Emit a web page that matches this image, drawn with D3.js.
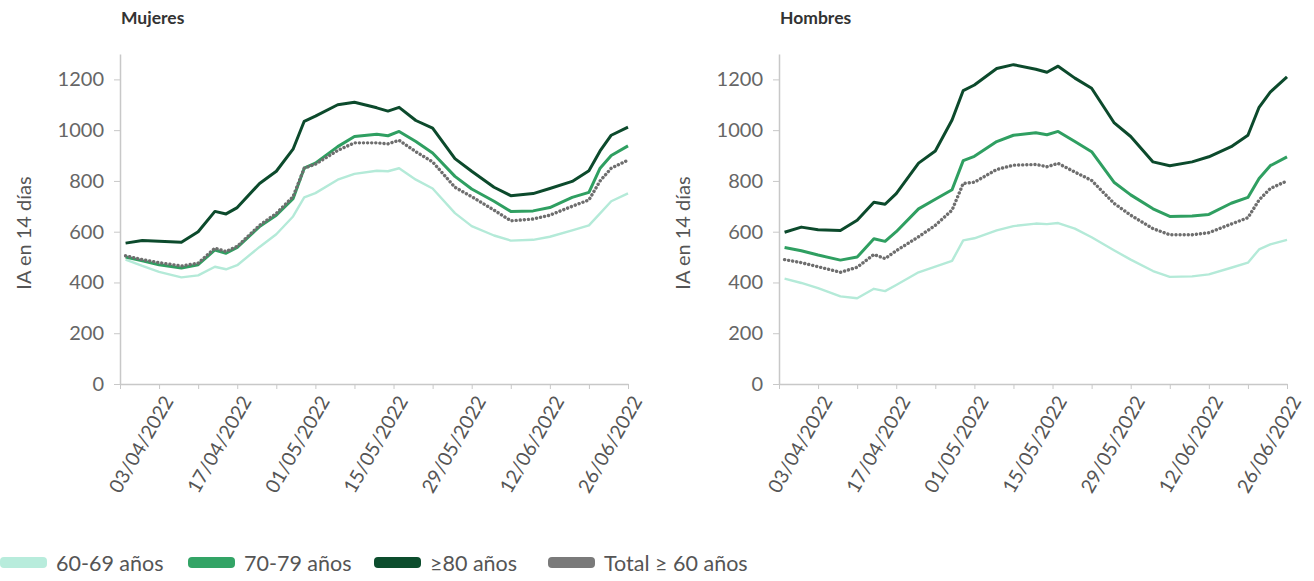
<!DOCTYPE html>
<html><head><meta charset="utf-8">
<script src="https://cdn.jsdelivr.net/npm/d3@7"></script>
<style>
body{margin:0;background:#fff;}
text{font-family:Lato, "Open Sans", sans-serif;}
</style>
</head><body>
<svg id="chart" width="1314" height="581"></svg>
<script>
const dates = ["2022-03-28","2022-03-31","2022-04-03","2022-04-07","2022-04-10","2022-04-13","2022-04-15","2022-04-17","2022-04-21","2022-04-24","2022-04-27","2022-04-29","2022-05-01","2022-05-05","2022-05-08","2022-05-12","2022-05-14","2022-05-16","2022-05-19","2022-05-22","2022-05-26","2022-05-29","2022-06-02","2022-06-05","2022-06-09","2022-06-12","2022-06-16","2022-06-19","2022-06-21","2022-06-23","2022-06-26"];
const domainDates = ["2022-03-27","2022-06-26"];
const tickLabelDates = ["2022-04-03","2022-04-17","2022-05-01","2022-05-15","2022-05-29","2022-06-12","2022-06-26"];
const yTicks = [0,200,400,600,800,1000,1200];
const seriesNames = ["60-69 años","70-79 años","≥80 años","Total ≥ 60 años"];
const panelTitles = ["Mujeres","Hombres"];

const mujeres6069 = [490,465,442,420,428,462,452,468,540,590,660,735,752,805,828,840,838,850,805,770,673,622,585,565,568,580,605,625,672,720,751];
const mujeres7079 = [500,485,470,457,470,528,515,538,620,665,730,850,870,935,975,984,978,995,955,910,818,768,720,680,682,695,735,755,850,900,938];
const mujeres80 = [555,565,562,558,600,680,670,695,790,838,925,1035,1055,1100,1110,1088,1075,1090,1038,1008,888,838,775,742,750,770,798,840,918,980,1012];
const mujeresTotal = [505,490,478,465,476,535,522,542,625,672,738,850,866,920,950,950,946,960,915,875,775,738,685,643,650,665,700,725,800,850,882];

const hombres6069 = [415,398,378,345,338,375,366,390,440,462,485,566,574,605,622,632,630,634,612,578,527,490,445,422,424,432,458,478,530,550,568];
const hombres7079 = [538,525,508,488,500,572,562,600,690,728,765,880,897,955,980,990,982,995,955,915,795,745,690,660,662,668,712,735,810,860,895];
const hombres80 = [598,618,608,605,645,716,708,750,870,918,1040,1156,1178,1243,1258,1240,1228,1252,1205,1165,1030,975,875,860,875,895,935,980,1090,1150,1210];
const hombresTotal = [490,478,462,440,460,510,494,525,580,625,685,790,795,845,862,865,856,869,835,802,712,665,612,588,588,596,630,655,725,770,800];

const colors = ["#b4ead8","#2f9f61","#0c4a2c","#6e6e6e"];
const legendColors = ["#b8ecdc","#33a466","#0c4d2d","#7a7a7a"];

const parse = d3.timeParse("%Y-%m-%d");
const fmt = d3.timeFormat("%d/%m/%Y");
const svg = d3.select("#chart");

const panels = [
  {title: panelTitles[0], left: 120, series: [mujeres6069, mujeres7079, mujeres80, mujeresTotal]},
  {title: panelTitles[1], left: 779, series: [hombres6069, hombres7079, hombres80, hombresTotal]}
];
const plotW = 508, plotTop = 54, plotBottom = 384;

panels.forEach(p => {
  const g = svg.append("g");
  const x = d3.scaleTime().domain(domainDates.map(parse)).range([p.left, p.left + plotW]);
  const y = d3.scaleLinear().domain([0,1300]).range([plotBottom, plotTop]);

  g.append("text").attr("x", p.left + 1).attr("y", 24)
    .attr("font-size", 17.5).attr("font-weight", 700).attr("fill", "#333").text(p.title);

  const ya = g.append("g").attr("transform", `translate(${p.left},0)`)
    .call(d3.axisLeft(y).tickValues(yTicks).tickFormat(d3.format("d")).tickSize(6).tickPadding(10).tickSizeOuter(0));
  ya.select(".domain").attr("stroke", "#c8c8c8").attr("stroke-width", 1.5);
  ya.selectAll(".tick line").attr("stroke", "#c8c8c8");
  ya.selectAll(".tick text").attr("font-size", 20).attr("fill", "#666").attr("font-family", "Lato, sans-serif");

  g.append("text").attr("transform", `translate(${p.left - 89},${(plotTop + plotBottom)/2 + 14}) rotate(-90)`)
    .attr("text-anchor", "middle").attr("font-size", 20).attr("fill", "#555").text("IA en 14 días");

  const weekTicks = d3.timeWeek.range(parse(domainDates[0]), d3.timeDay.offset(parse(domainDates[1]), 1));
  const xa = g.append("g").attr("transform", `translate(0,${plotBottom})`)
    .call(d3.axisBottom(x).tickValues(weekTicks).tickSize(5).tickFormat("").tickSizeOuter(0));
  xa.select(".domain").attr("stroke", "#c8c8c8").attr("stroke-width", 1.5);
  xa.selectAll(".tick line").attr("stroke", "#c8c8c8");

  const xl = g.append("g").attr("transform", `translate(0,${plotBottom})`)
    .call(d3.axisBottom(x).tickValues(tickLabelDates.map(parse)).tickSize(0).tickFormat(fmt));
  xl.select(".domain").remove();
  xl.selectAll(".tick text")
    .attr("font-size", 19.5).attr("fill", "#555").attr("font-family", "Lato, sans-serif")
    .attr("text-anchor", "end").attr("dy", "0.35em")
    .attr("transform", "translate(6,12) rotate(-60)");

  const pts = dates.map(parse);
  p.series.forEach((vals, i) => {
    const line = d3.line().x((d, k) => x(pts[k])).y(d => y(d));
    const path = g.append("path").datum(vals).attr("d", line).attr("fill", "none")
      .attr("stroke", colors[i]).attr("stroke-linejoin", "round");
    if (i === 3) {
      path.attr("stroke-width", 3.4).attr("stroke-dasharray", "0.1,4").attr("stroke-linecap", "round");
    } else if (i === 0) {
      path.attr("stroke-width", 2.4);
    } else {
      path.attr("stroke-width", 3);
    }
  });
});

const legendX = [0, 188, 374, 548];
const lg = svg.append("g");
seriesNames.forEach((name, i) => {
  lg.append("rect").attr("x", legendX[i]).attr("y", 557).attr("width", 47).attr("height", 11)
    .attr("rx", 4).attr("fill", legendColors[i]);
  lg.append("text").attr("x", legendX[i] + 56).attr("y", 571).attr("font-size", 21.5)
    .attr("fill", "#555").text(name);
});
</script>
</body></html>
